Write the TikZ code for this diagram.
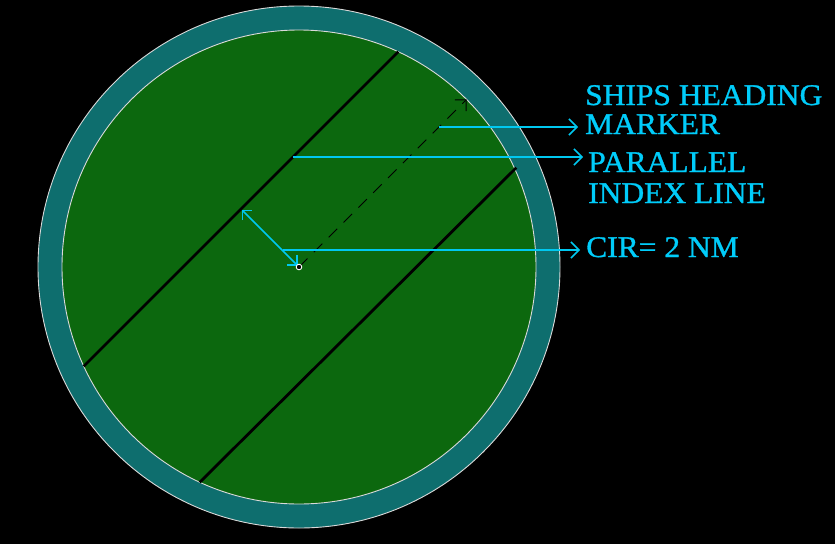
\documentclass[tikz,border=0pt]{standalone}
\usepackage{fontspec}
\setmainfont{Liberation Serif}
\usetikzlibrary{arrows.meta,calc}
\definecolor{ringcol}{RGB}{14,110,110}
\definecolor{fieldcol}{RGB}{12,104,14}
\definecolor{leadcol}{RGB}{0,200,240}
\definecolor{textcol}{RGB}{0,204,250}
\tikzset{
  edgecircle/.style={draw=white!85!black, line width=0.9pt},
  pilineA/.style={draw=black, line width=2.8pt},
  headline/.style={draw=black, line width=1pt, dash pattern=on 12pt off 9pt, -{Straight Barb[length=8pt,width=16pt]}},
  leader/.style={draw=leadcol, line width=2pt, -{Straight Barb[length=8pt,width=16pt,line width=1.5pt]}},
  dimline/.style={draw=leadcol, line width=1.5pt, {Straight Barb[length=7pt,width=14pt]}-{Straight Barb[length=7pt,width=14pt]}},
  lbl/.style={text=textcol, font=\fontsize{30}{30}\selectfont\addfontfeature{FakeBold=1}, anchor=base west, inner sep=0pt, xscale=1.05}
}
\begin{document}
\begin{tikzpicture}[x=1pt,y=-1pt]
\fill[black] (0,0) rectangle (835,544);
\useasboundingbox (0,0) rectangle (835,544);
% circles
\coordinate (C) at (299,267);
\fill[ringcol] (C) circle (261pt);
\draw[edgecircle] (C) circle (261pt);
\fill[fieldcol] (C) circle (237pt);
\draw[edgecircle] (C) circle (237pt);
% parallel index lines
\coordinate (A1) at (83.7,366.3);
\coordinate (A2) at (398.3,51.7);
\coordinate (B1) at (199.7,482.3);
\coordinate (B2) at (516.3,167.7);
\draw[pilineA] (A1) -- (A2);
\draw[pilineA] (B1) -- (B2);
% heading marker
\coordinate (H) at (466.6,99.4);
\draw[headline] (C) -- (H);
% perpendicular dimension
\coordinate (F1) at (241.5,209.5);
\coordinate (F0) at (297.5,265.5);
\draw[dimline] (F0) -- (F1);
% centre dot
\filldraw[draw=white, fill=black, line width=0.9pt] (C) circle (2.8pt);
% labels
\node[lbl] (t1) at (585,105) {SHIPS HEADING};
\node[lbl] (t2) at (585,134) {MARKER};
\node[lbl] (t3) at (588,172) {PARALLEL};
\node[lbl] (t4) at (588,203) {INDEX LINE};
\node[lbl] (t5) at (586,257) {CIR= 2 NM};
% leaders
\coordinate (S1) at (439,127);
\coordinate (E1) at (578,127);
\coordinate (S2) at (292.5,157);
\coordinate (E2) at (583,157);
\coordinate (S3) at (283,250);
\coordinate (E3) at (580,250);
\draw[leader] (S1) -- (E1);
\draw[leader] (S2) -- (E2);
\draw[leader] (S3) -- (E3);
\end{tikzpicture}
\end{document}
